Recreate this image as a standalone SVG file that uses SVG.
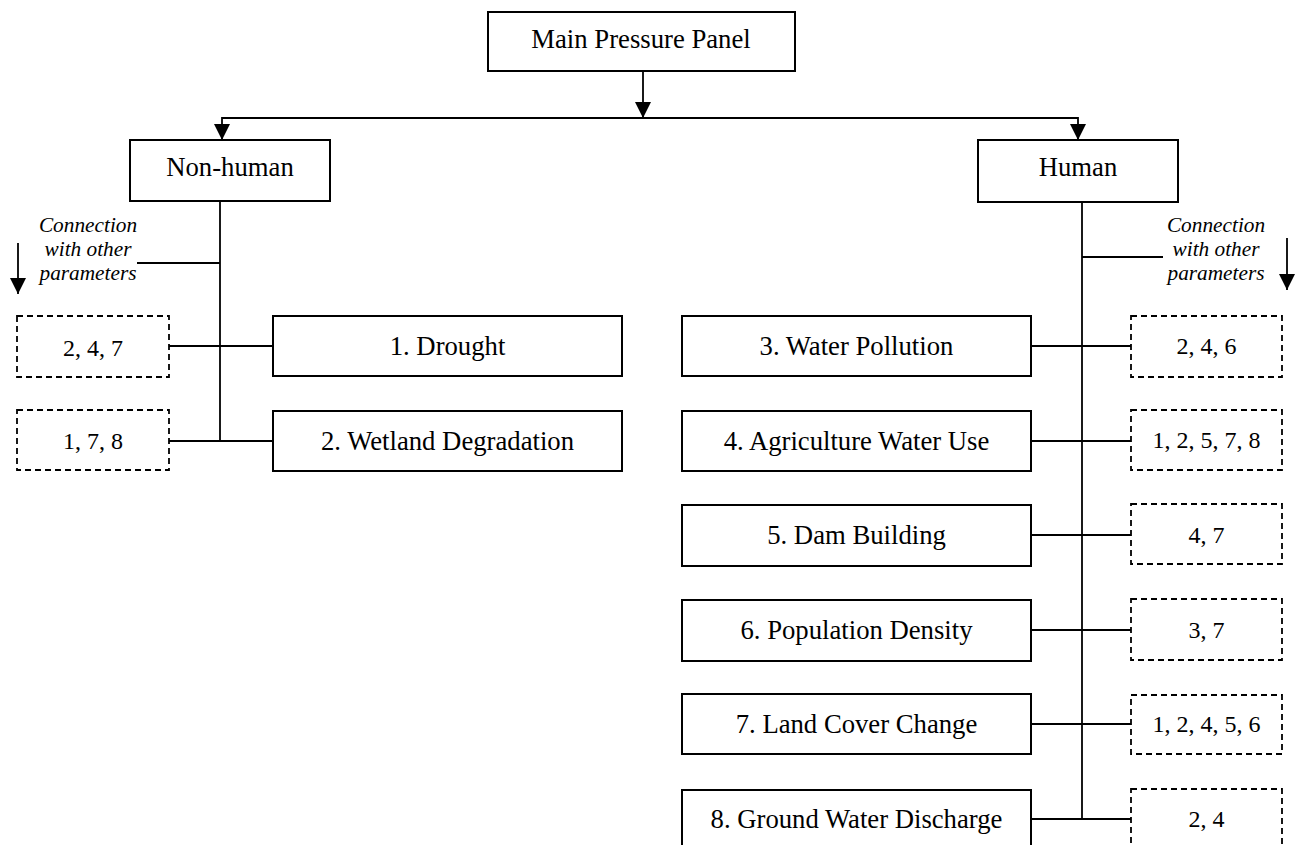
<svg xmlns="http://www.w3.org/2000/svg" width="1298" height="845" viewBox="0 0 1298 845">
<style>
.box{fill:#fff;stroke:#000;stroke-width:2}
.dbox{fill:#fff;stroke:#000;stroke-width:1.8;stroke-dasharray:6 4}
.t{font-family:"Liberation Serif","Times New Roman",serif;font-size:26.7px;fill:#000;text-anchor:middle}
.d{font-family:"Liberation Serif","Times New Roman",serif;font-size:24px;fill:#000;text-anchor:middle}
.i{font-family:"Liberation Serif","Times New Roman",serif;font-size:21.3px;font-style:italic;fill:#000;text-anchor:middle}
.ln{stroke:#000;stroke-width:1.8;fill:none}
</style>
<defs>
<marker id="ah" markerWidth="16" markerHeight="16" viewBox="0 0 16 16" refX="16" refY="8" orient="auto" markerUnits="userSpaceOnUse">
<path d="M0,0 L16,8 L0,16 Z" fill="#000"/>
</marker>
</defs>
<g id="connectors">
<line class="ln" x1="643" y1="71" x2="643" y2="118" marker-end="url(#ah)"/>
<line class="ln" x1="222" y1="118" x2="1078" y2="118"/>
<line class="ln" x1="222" y1="117" x2="222" y2="140" marker-end="url(#ah)"/>
<line class="ln" x1="1078" y1="117" x2="1078" y2="140" marker-end="url(#ah)"/>
<line class="ln" x1="220" y1="201" x2="220" y2="441"/>
<line class="ln" x1="137" y1="263" x2="220" y2="263"/>
<line class="ln" x1="169" y1="346" x2="273" y2="346"/>
<line class="ln" x1="169" y1="441" x2="273" y2="441"/>
<line class="ln" x1="18" y1="243" x2="18" y2="294" marker-end="url(#ah)"/>
<line class="ln" x1="1082" y1="202" x2="1082" y2="819"/>
<line class="ln" x1="1082" y1="257" x2="1163" y2="257"/>
<line class="ln" x1="1287" y1="238" x2="1287" y2="290" marker-end="url(#ah)"/>
<line class="ln" x1="1031" y1="346" x2="1131" y2="346"/>
<line class="ln" x1="1031" y1="441" x2="1131" y2="441"/>
<line class="ln" x1="1031" y1="535" x2="1131" y2="535"/>
<line class="ln" x1="1031" y1="630" x2="1131" y2="630"/>
<line class="ln" x1="1031" y1="724" x2="1131" y2="724"/>
<line class="ln" x1="1031" y1="819" x2="1131" y2="819"/>
</g>
<g id="main"><rect class="box" x="488" y="12" width="307" height="59"/><text class="t" x="641" y="48">Main Pressure Panel</text></g>
<g id="nonhuman"><rect class="box" x="130" y="140" width="200" height="61"/><text class="t" x="230" y="176">Non-human</text></g>
<g id="human"><rect class="box" x="978" y="140" width="200" height="62"/><text class="t" x="1078" y="176">Human</text></g>
<g id="note-left"><text class="i" x="88" y="232">Connection</text><text class="i" x="88" y="256">with other</text><text class="i" x="88" y="280">parameters</text></g>
<g id="note-right"><text class="i" x="1216" y="232">Connection</text><text class="i" x="1216" y="256">with other</text><text class="i" x="1216" y="280">parameters</text></g>
<g id="p1"><rect class="box" x="273" y="316" width="349" height="60"/><text class="t" x="447.5" y="355">1. Drought</text></g>
<g id="p2"><rect class="box" x="273" y="411" width="349" height="60"/><text class="t" x="447.5" y="450">2. Wetland Degradation</text></g>
<g id="c1"><rect class="dbox" x="17" y="316" width="152" height="61"/><text class="d" x="93" y="356">2, 4, 7</text></g>
<g id="c2"><rect class="dbox" x="17" y="410" width="152" height="60"/><text class="d" x="93" y="449">1, 7, 8</text></g>
<g id="p3"><rect class="box" x="682" y="316" width="349" height="60"/><text class="t" x="856.5" y="355">3. Water Pollution</text></g>
<g id="p4"><rect class="box" x="682" y="411" width="349" height="60"/><text class="t" x="856.5" y="450">4. Agriculture Water Use</text></g>
<g id="p5"><rect class="box" x="682" y="505" width="349" height="61"/><text class="t" x="856.5" y="544">5. Dam Building</text></g>
<g id="p6"><rect class="box" x="682" y="600" width="349" height="61"/><text class="t" x="856.5" y="639">6. Population Density</text></g>
<g id="p7"><rect class="box" x="682" y="694" width="349" height="60"/><text class="t" x="856.5" y="733">7. Land Cover Change</text></g>
<g id="p8"><rect class="box" x="682" y="790" width="349" height="60"/><text class="t" x="856.5" y="828">8. Ground Water Discharge</text></g>
<g id="c3"><rect class="dbox" x="1131" y="316" width="151" height="61"/><text class="d" x="1206.5" y="354">2, 4, 6</text></g>
<g id="c4"><rect class="dbox" x="1131" y="410" width="151" height="60"/><text class="d" x="1206.5" y="448">1, 2, 5, 7, 8</text></g>
<g id="c5"><rect class="dbox" x="1131" y="504" width="151" height="60"/><text class="d" x="1206.5" y="543">4, 7</text></g>
<g id="c6"><rect class="dbox" x="1131" y="599" width="151" height="61"/><text class="d" x="1206.5" y="638">3, 7</text></g>
<g id="c7"><rect class="dbox" x="1131" y="695" width="151" height="59"/><text class="d" x="1206.5" y="732">1, 2, 4, 5, 6</text></g>
<g id="c8"><rect class="dbox" x="1131" y="789" width="151" height="61"/><text class="d" x="1206.5" y="827">2, 4</text></g>
</svg>
